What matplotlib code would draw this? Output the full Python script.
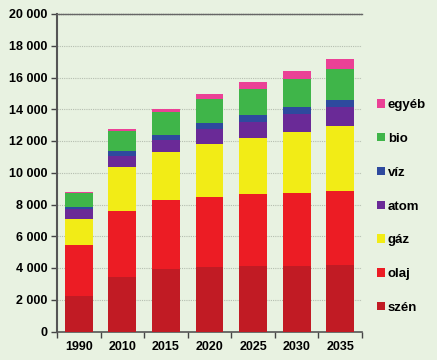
import matplotlib
matplotlib.use("Agg")
import matplotlib.pyplot as plt
import numpy as np
from matplotlib.patches import Patch

years = ["1990", "2010", "2015", "2020", "2025", "2030", "2035"]
szen = [2250, 3450, 3950, 4050, 4100, 4150, 4200]
olaj = [3200, 4130, 4350, 4450, 4550, 4600, 4650]
gaz = [1640, 2770, 3000, 3300, 3550, 3840, 4120]
atom = [630, 730, 760, 930, 1020, 1090, 1150]
viz = [140, 310, 340, 380, 420, 440, 460]
bio = [850, 1240, 1450, 1510, 1640, 1770, 1930]
egyeb = [80, 120, 160, 320, 410, 540, 680]

series_names = ["szén", "olaj", "gáz", "atom", "víz", "bio", "egyéb"]
series = [szen, olaj, gaz, atom, viz, bio, egyeb]
colors = ["#C11B24", "#EC1C24", "#F2EC16", "#6A2A97", "#2E4A9E", "#3FB549", "#EB4196"]

yticks = [0, 2000, 4000, 6000, 8000, 10000, 12000, 14000, 16000, 18000, 20000]
ytick_labels = ["0", "2 000", "4 000", "6 000", "8 000", "10 000", "12 000",
                "14 000", "16 000", "18 000", "20 000"]

bg = "#E8F2E1"
plt.rcParams['font.family'] = ['Liberation Sans', 'DejaVu Sans']
fig = plt.figure(figsize=(4.37, 3.60), dpi=100, facecolor=bg)
ax = fig.add_axes([57/437, 1 - 331.5/360, 305/437, 317.5/360], facecolor=bg)

x = np.arange(len(years))
bottom = np.zeros(len(years))
handles = []
for name, vals, c in zip(series_names, series, colors):
    ax.bar(x, vals, bottom=bottom, width=0.64, color=c, linewidth=0, zorder=3)
    bottom += np.array(vals)
    handles.append(Patch(facecolor=c, edgecolor='none', label=name))

ax.set_xlim(-0.5, len(years) - 0.5)
ax.set_ylim(0, 20000)
ax.set_yticks(yticks)
ax.set_yticklabels(ytick_labels, fontsize=9, fontweight='bold')
ax.set_xticks(x)
ax.set_xticklabels(years, fontsize=9, fontweight='bold')
ax.set_xticks(np.arange(-0.5, len(years)), minor=True)
ax.tick_params(axis='x', which='major', length=0, pad=7)
ax.tick_params(axis='x', which='minor', length=4, width=1, color='#444444', direction='out')
ax.tick_params(axis='y', length=4, width=1, color='#444444', direction='out', pad=3)

for yv in yticks[1:-1]:
    ax.axhline(yv, color='#B5BEB0', linewidth=0.8, linestyle=(0, (1, 1)), zorder=1)

ax.spines['right'].set_visible(False)
ax.spines['top'].set_linestyle((0, (1, 0.6)))
ax.spines['top'].set_color('#666666')
ax.spines['top'].set_linewidth(1.0)
ax.spines['left'].set_color('#555555')
ax.spines['left'].set_linewidth(1.5)
ax.spines['bottom'].set_color('#555555')
ax.spines['bottom'].set_linewidth(1.2)

leg = fig.legend(handles[::-1], series_names[::-1], loc='center left',
                 bbox_to_anchor=(370/437, 1 - 206.5/360), frameon=False,
                 prop={'weight': 'bold', 'size': 9.5},
                 handlelength=0.6, handleheight=0.6, handletextpad=0.25,
                 labelspacing=1.65, borderpad=0)

fig.savefig("out.png", dpi=100, facecolor=bg)
